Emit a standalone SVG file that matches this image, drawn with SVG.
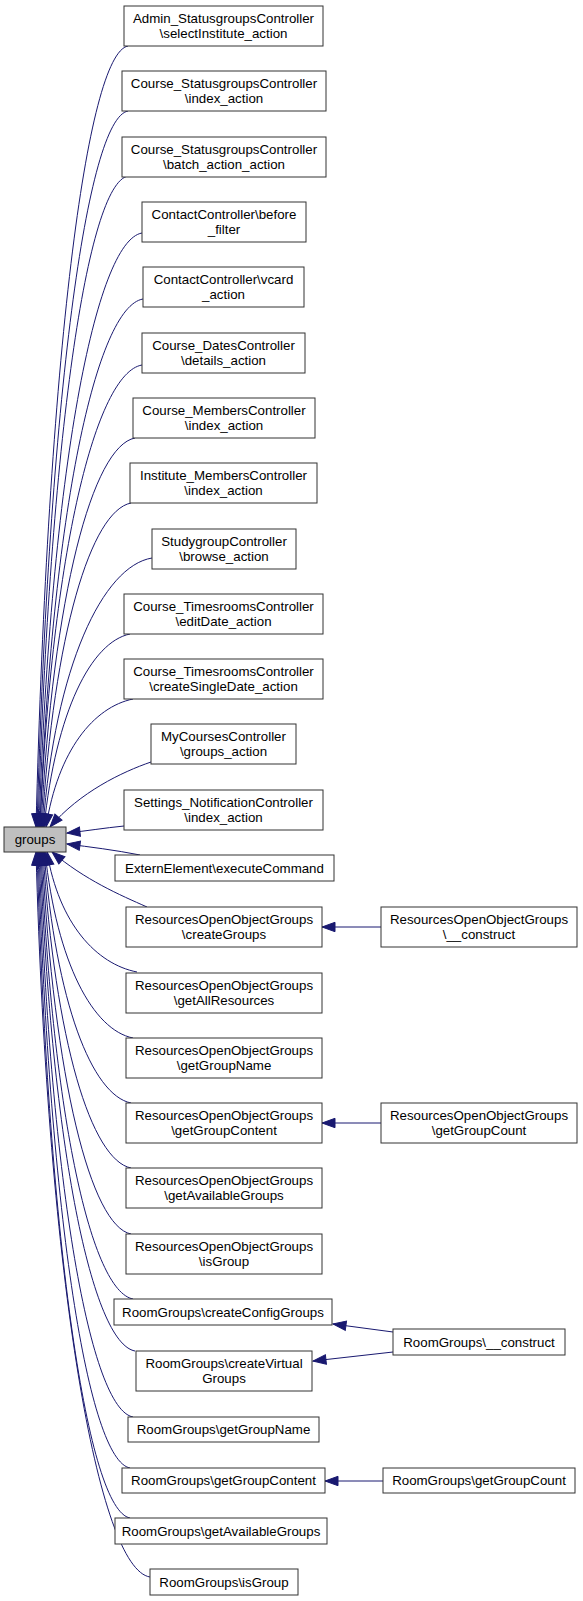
<svg xmlns="http://www.w3.org/2000/svg" width="583" height="1601" viewBox="0 0 583 1601">
<style>
.n rect{fill:#fff;stroke:#333;stroke-width:1}
.n text{font-family:"Liberation Sans",Arial,sans-serif;font-size:13.3px;fill:#000;text-anchor:middle}
#groups rect{fill:#bfbfbf}
.e path{fill:none;stroke:#191970;stroke-width:1;marker-end:url(#ah)}
</style>
<defs>
<marker id="ah" markerUnits="userSpaceOnUse" markerWidth="14" markerHeight="10" refX="13" refY="5" orient="auto" overflow="visible">
<path d="M0,0.3 L13,5 L0,9.7 z" fill="#191970" stroke="#191970" stroke-width="1"/>
</marker>
</defs>
<g id="edges" class="e">
<path d="M128,46 C86.6,54 48,358 36,827"/>
<path d="M128,111 C87,119 49,397 37,827"/>
<path d="M128,176 C87.5,184 50,436 38,827"/>
<path d="M142,233 C95.6,241 51,471 39,827"/>
<path d="M143,299 C96.6,307 52,510 40,827"/>
<path d="M142,365 C96,373 52,550 40,827"/>
<path d="M135,438 C92.7,446 53,594 41,827"/>
<path d="M131,503 C91,511 54,633 42,827"/>
<path d="M152,558 C103,566 55,666 43,827"/>
<path d="M130,634 C91.3,642 56,711 44,827"/>
<path d="M133,699 C94,707 58,750 46,827"/>
<path d="M151,762 C122,772 80,792 50,827"/>
<path d="M124,826 C104,828 86,831 67,833"/>
<path d="M140,855 C115,850 90,847 67,844"/>
<path d="M147,907 C120,895 85,880 52,852"/>
<path d="M137,972 C96.5,964 59,924 47,852"/>
<path d="M133,1038 C93.4,1030 57,964 45,852"/>
<path d="M131,1103 C91.9,1095 56,1003 44,852"/>
<path d="M131,1168 C91.4,1160 55,1042 43,852"/>
<path d="M131,1234 C91,1226 54,1081 42,852"/>
<path d="M133,1299 C91.6,1291 53,1120 41,852"/>
<path d="M135,1351 C92.3,1343 52,1151 40,852"/>
<path d="M133,1417 C90.7,1409 51,1191 39,852"/>
<path d="M130,1468 C88.6,1460 50,1222 38,852"/>
<path d="M130,1518 C88,1510 49,1252 37,852"/>
<path d="M150,1577 C98.7,1569 48,1287 36,852"/>
<path d="M381,927 L322,927"/>
<path d="M381,1123 L322,1123"/>
<path d="M393,1332 L333,1324"/>
<path d="M393,1352 L313,1361"/>
<path d="M383,1481 L325,1481"/>
</g>
<g id="groups" class="n"><rect x="4" y="827" width="62" height="25"/><text x="35" y="844">groups</text></g>
<g id="n1" class="n"><rect x="124" y="6" width="199" height="40"/><text x="223.5" y="22.5">Admin_StatusgroupsController</text><text x="223.5" y="37.5">\selectInstitute_action</text></g>
<g id="n2" class="n"><rect x="122" y="71" width="204" height="40"/><text x="224" y="87.5">Course_StatusgroupsController</text><text x="224" y="102.5">\index_action</text></g>
<g id="n3" class="n"><rect x="122" y="137" width="204" height="40"/><text x="224" y="153.5">Course_StatusgroupsController</text><text x="224" y="168.5">\batch_action_action</text></g>
<g id="n4" class="n"><rect x="142" y="202" width="164" height="40"/><text x="224" y="218.5">ContactController\before</text><text x="224" y="233.5">_filter</text></g>
<g id="n5" class="n"><rect x="143" y="267" width="161" height="40"/><text x="223.5" y="283.5">ContactController\vcard</text><text x="223.5" y="298.5">_action</text></g>
<g id="n6" class="n"><rect x="142" y="333" width="163" height="40"/><text x="223.5" y="349.5">Course_DatesController</text><text x="223.5" y="364.5">\details_action</text></g>
<g id="n7" class="n"><rect x="133" y="398" width="182" height="40"/><text x="224" y="414.5">Course_MembersController</text><text x="224" y="429.5">\index_action</text></g>
<g id="n8" class="n"><rect x="130" y="463" width="187" height="40"/><text x="223.5" y="479.5">Institute_MembersController</text><text x="223.5" y="494.5">\index_action</text></g>
<g id="n9" class="n"><rect x="152" y="529" width="144" height="40"/><text x="224" y="545.5">StudygroupController</text><text x="224" y="560.5">\browse_action</text></g>
<g id="n10" class="n"><rect x="124" y="594" width="199" height="40"/><text x="223.5" y="610.5">Course_TimesroomsController</text><text x="223.5" y="625.5">\editDate_action</text></g>
<g id="n11" class="n"><rect x="124" y="659" width="199" height="40"/><text x="223.5" y="675.5">Course_TimesroomsController</text><text x="223.5" y="690.5">\createSingleDate_action</text></g>
<g id="n12" class="n"><rect x="151" y="724" width="145" height="40"/><text x="223.5" y="740.5">MyCoursesController</text><text x="223.5" y="755.5">\groups_action</text></g>
<g id="n13" class="n"><rect x="124" y="790" width="199" height="40"/><text x="223.5" y="806.5">Settings_NotificationController</text><text x="223.5" y="821.5">\index_action</text></g>
<g id="n14" class="n"><rect x="115" y="855" width="219" height="26"/><text x="224.5" y="872.5">ExternElement\executeCommand</text></g>
<g id="n15" class="n"><rect x="126" y="907" width="196" height="40"/><text x="224" y="923.5">ResourcesOpenObjectGroups</text><text x="224" y="938.5">\createGroups</text></g>
<g id="n15b" class="n"><rect x="381" y="907" width="196" height="40"/><text x="479" y="923.5">ResourcesOpenObjectGroups</text><text x="479" y="938.5">\__construct</text></g>
<g id="n16" class="n"><rect x="126" y="973" width="196" height="40"/><text x="224" y="989.5">ResourcesOpenObjectGroups</text><text x="224" y="1004.5">\getAllResources</text></g>
<g id="n17" class="n"><rect x="126" y="1038" width="196" height="40"/><text x="224" y="1054.5">ResourcesOpenObjectGroups</text><text x="224" y="1069.5">\getGroupName</text></g>
<g id="n18" class="n"><rect x="126" y="1103" width="196" height="40"/><text x="224" y="1119.5">ResourcesOpenObjectGroups</text><text x="224" y="1134.5">\getGroupContent</text></g>
<g id="n18b" class="n"><rect x="381" y="1103" width="196" height="40"/><text x="479" y="1119.5">ResourcesOpenObjectGroups</text><text x="479" y="1134.5">\getGroupCount</text></g>
<g id="n19" class="n"><rect x="126" y="1168" width="196" height="40"/><text x="224" y="1184.5">ResourcesOpenObjectGroups</text><text x="224" y="1199.5">\getAvailableGroups</text></g>
<g id="n20" class="n"><rect x="126" y="1234" width="196" height="40"/><text x="224" y="1250.5">ResourcesOpenObjectGroups</text><text x="224" y="1265.5">\isGroup</text></g>
<g id="n21" class="n"><rect x="114" y="1299" width="218" height="26"/><text x="223" y="1316.5">RoomGroups\createConfigGroups</text></g>
<g id="n22" class="n"><rect x="136" y="1351" width="176" height="40"/><text x="224" y="1367.5">RoomGroups\createVirtual</text><text x="224" y="1382.5">Groups</text></g>
<g id="n22b" class="n"><rect x="393" y="1329" width="172" height="26"/><text x="479" y="1346.5">RoomGroups\__construct</text></g>
<g id="n23" class="n"><rect x="128" y="1417" width="191" height="25"/><text x="223.5" y="1434">RoomGroups\getGroupName</text></g>
<g id="n24" class="n"><rect x="122" y="1468" width="203" height="25"/><text x="223.5" y="1485">RoomGroups\getGroupContent</text></g>
<g id="n24b" class="n"><rect x="383" y="1468" width="192" height="25"/><text x="479" y="1485">RoomGroups\getGroupCount</text></g>
<g id="n25" class="n"><rect x="115" y="1518" width="212" height="26"/><text x="221" y="1535.5">RoomGroups\getAvailableGroups</text></g>
<g id="n26" class="n"><rect x="150" y="1569" width="148" height="26"/><text x="224" y="1586.5">RoomGroups\isGroup</text></g>
</svg>
